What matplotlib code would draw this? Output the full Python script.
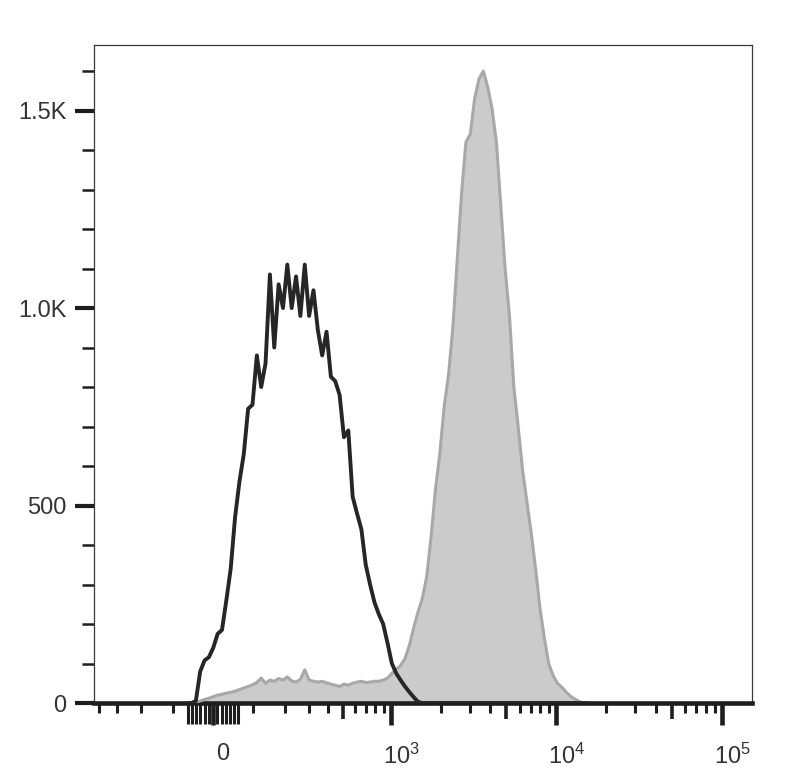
import numpy as np
import matplotlib
matplotlib.use("Agg")
import matplotlib.pyplot as plt
from matplotlib.ticker import FixedLocator
from matplotlib.transforms import ScaledTranslation

plt.rcParams["font.family"] = ["Liberation Sans", "DejaVu Sans"]
plt.rcParams["mathtext.fontset"] = "custom"
plt.rcParams["mathtext.rm"] = "Liberation Sans"

# biexponential-style display: asinh with this cofactor
COFACTOR = 170.0
# histogram channels are evenly spaced in asinh units
T_START = -0.36
T_STEP = 0.0605

# isotype / unstained control (black line)
control_counts = [
    0, 0, 5, 80, 108, 116, 140, 175, 185, 260,
    340, 470, 560, 630, 745, 755, 880, 800, 860, 1085,
    900, 1060, 1000, 1110, 1000, 1080, 980, 1110, 980, 1045,
    945, 880, 940, 826, 815, 780, 673, 690, 522, 480,
    440, 350, 300, 255, 225, 200, 152, 100, 75, 58,
    42, 28, 15, 3,
] + [0] * 39

# stained sample (grey filled)
stained_counts = [
    0, 0, 2, 5, 9, 12, 16, 20, 22, 25,
    27, 30, 34, 38, 42, 46, 52, 63, 50, 58,
    55, 62, 58, 66, 56, 53, 60, 84, 58, 55,
    53, 55, 51, 48, 45, 42, 48, 45, 50, 53,
    55, 52, 53, 55, 55, 58, 63, 75, 85, 95,
    112, 145, 190, 230, 265, 320, 420, 540, 630, 750,
    830, 950, 1120, 1290, 1420, 1440, 1530, 1580, 1600, 1560,
    1505, 1420, 1260, 1100, 980, 800, 700, 590, 510, 430,
    340, 240, 165, 100, 70, 50, 40, 28, 17, 10,
    4, 0, 0,
]

y_ticks = [0, 500, 1000, 1500]
y_labels = ["0", "500", "1.0K", "1.5K"]
y_minor = [100, 200, 300, 400, 600, 700, 800, 900, 1100, 1200, 1300, 1400, 1600]

x_ticks = [0, 1e3, 1e4, 1e5]
x_labels = ["0", r"$\mathregular{10^{3}}$", r"$\mathregular{10^{4}}$", r"$\mathregular{10^{5}}$"]
x_mid = [500, 5000, 50000]
x_near_zero = [-60, -50, -40, -30, -20, -10, 10, 20, 30, 40, 50, 60]
x_minor = ([-100, -200, -300, -400]
           + [100, 200, 300, 400, 600, 700, 800, 900]
           + [2000, 3000, 4000, 6000, 7000, 8000, 9000]
           + [20000, 30000, 40000, 60000, 70000, 80000, 90000])

TICK = "#1e1e1e"


def fwd(x):
    return np.arcsinh(np.asarray(x, dtype=float) / COFACTOR)


def inv(t):
    return COFACTOR * np.sinh(np.asarray(t, dtype=float))


channels = inv(T_START + T_STEP * np.arange(len(stained_counts)))
x_range = (-428, 151500)

fig = plt.figure(figsize=(7.87, 7.73), dpi=100)
ax = fig.add_axes([94 / 787, 70 / 773, 658 / 787, 658 / 773])
ax.set_xscale("function", functions=(fwd, inv))
ax.set_xlim(*x_range)
ax.set_ylim(0, 1666)

ax.fill_between(channels, stained_counts, color="#cbcbcb", lw=0, zorder=2)
ax.plot(channels, stained_counts, color="#a8a8a8", lw=2.2, zorder=3)
ax.plot(channels, control_counts, color="#262626", lw=2.8, zorder=4)

# axes frame
for side in ["left", "top", "right"]:
    ax.spines[side].set_linewidth(0.9)
    ax.spines[side].set_color("#3a3a3a")
ax.spines["bottom"].set_linewidth(3.3)
ax.spines["bottom"].set_color(TICK)

ax.set_yticks(y_ticks)
ax.set_yticklabels(y_labels)
ax.yaxis.set_minor_locator(FixedLocator(y_minor))
ax.tick_params(axis="y", which="major", length=14, width=3.0, color=TICK,
               labelsize=17, labelcolor="#333333", pad=6)
ax.tick_params(axis="y", which="minor", length=8.5, width=1.8, color=TICK)

ax.set_xticks(x_ticks)
ax.set_xticklabels(x_labels)
ax.xaxis.set_minor_locator(FixedLocator(x_minor))
ax.tick_params(axis="x", which="major", length=16, width=3.3, color=TICK,
               labelsize=17, labelcolor="#333333", pad=13)
ax.tick_params(axis="x", which="minor", length=7.5, width=2.2, color=TICK)
shift = ScaledTranslation(10 / 100, 0, fig.dpi_scale_trans)
for lab in ax.get_xticklabels():
    lab.set_transform(lab.get_transform() + shift)

# mid-length ticks at 5 x 10^n and the crowded ticks around zero
ax2 = ax.twiny()
ax2.set_xscale("function", functions=(fwd, inv))
ax2.set_xlim(*x_range)
ax2.xaxis.set_ticks_position("bottom")
ax2.set_xticks(x_mid)
ax2.xaxis.set_minor_locator(FixedLocator(x_near_zero))
ax2.tick_params(axis="x", which="major", length=11.5, width=2.6, color=TICK,
                labelbottom=False, labeltop=False)
ax2.tick_params(axis="x", which="minor", length=15, width=2.2, color=TICK)
for s in ax2.spines.values():
    s.set_visible(False)

fig.savefig("out.png", dpi=100)
